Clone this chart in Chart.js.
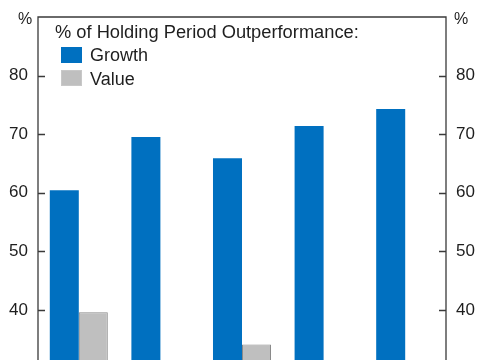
<!DOCTYPE html>
<html>
<head>
<meta charset="utf-8">
<script src="https://cdn.jsdelivr.net/npm/chart.js@4/dist/chart.umd.min.js"></script>
<style>
  html, body { margin: 0; padding: 0; background: #fff; overflow: hidden; }
  #wrap { position: relative; width: 485px; height: 440px; }
  canvas { display: block; }
  .txt { position: absolute; font-family: "Liberation Sans", Arial, sans-serif; font-size: 18px; color: #1e1e1e; white-space: nowrap; line-height: 1; }
  .box { position: absolute; width: 21px; height: 16px; box-sizing: border-box; }
</style>
</head>
<body>
<div id="wrap">
  <canvas id="c" width="485" height="440"></canvas>
  <div id="overlay"></div>
</div>
<script>
// ---- data ----
const categories = ["Period 1", "Period 2", "Period 3", "Period 4", "Period 5"];
const growthValues = [60.4, 69.5, 65.9, 71.4, 74.3];
const valueValues = [39.6, 30.5, 34.1, 28.6, 25.7];
const yTicks = [40, 50, 60, 70, 80];
const legendTitle = "% of Holding Period Outperformance:";
const seriesNames = ["Growth", "Value"];
const unitLabel = "%";

const growthColor = "#0070C0";
const valueColor = "#BFBFBF";

const frame = {
  id: 'frame',
  afterDraw(chart) {
    const ctx = chart.ctx, a = chart.chartArea;
    const y = chart.scales.y;
    ctx.save();
    ctx.strokeStyle = "#3a3a3a";
    ctx.lineWidth = 1.3;
    ctx.beginPath();
    ctx.moveTo(a.left, a.bottom + 20); ctx.lineTo(a.left, a.top);
    ctx.lineTo(a.right, a.top); ctx.lineTo(a.right, a.bottom + 20);
    yTicks.forEach(v => {
      const py = Math.round(y.getPixelForValue(v)) + 0.5;
      ctx.moveTo(a.left, py); ctx.lineTo(a.left + 7, py);
      ctx.moveTo(a.right, py); ctx.lineTo(a.right - 7, py);
    });
    ctx.stroke();
    ctx.restore();
  }
};

const tickFont = { family: "Liberation Sans, Arial, sans-serif", size: 17 };
function onlyListed(s) { s.ticks = yTicks.map(v => ({ value: v })); }
const hiddenGrid = { display: true, drawOnChartArea: false, drawTicks: true, tickLength: 10, color: 'rgba(0,0,0,0)' };

new Chart(document.getElementById('c'), {
  type: 'bar',
  data: {
    labels: categories,
    datasets: [
      { label: seriesNames[0], data: growthValues, backgroundColor: growthColor, borderWidth: 0 },
      { label: seriesNames[1], data: valueValues, backgroundColor: valueColor, borderColor: "#8a8a8a", borderWidth: 1 }
    ]
  },
  options: {
    responsive: false,
    animation: false,
    datasets: { bar: { barPercentage: 1.0, categoryPercentage: 0.711 } },
    layout: { padding: { top: 17, bottom: 13, left: 0, right: 0 } },
    plugins: { legend: { display: false }, tooltip: { enabled: false } },
    scales: {
      x: { display: false, grid: { display: false } },
      y: {
        position: 'left', min: 20, max: 90,
        afterBuildTicks: onlyListed,
        ticks: { color: "#1e1e1e", font: tickFont, padding: 0 },
        grid: hiddenGrid,
        border: { display: false },
        afterFit(s) { s.width = 38; }
      },
      y2: {
        position: 'right', min: 20, max: 90,
        afterBuildTicks: onlyListed,
        ticks: { color: "#1e1e1e", font: tickFont, padding: 0 },
        grid: hiddenGrid,
        border: { display: false },
        afterFit(s) { s.width = 39; }
      }
    }
  },
  plugins: [frame]
});

// ---- overlay text (legend and unit labels) ----
const ov = document.getElementById('overlay');
function addText(t, x, y, size) {
  const d = document.createElement('div'); d.className = 'txt';
  d.textContent = t; d.style.left = x + 'px'; d.style.top = y + 'px';
  if (size) d.style.fontSize = size + 'px';
  ov.appendChild(d);
}
function addBox(color, border, x, y) {
  const d = document.createElement('div'); d.className = 'box';
  d.style.background = color; d.style.left = x + 'px'; d.style.top = y + 'px';
  if (border) d.style.border = '1px solid ' + border;
  ov.appendChild(d);
}
addText(unitLabel, 18, 11, 16);
addText(unitLabel, 454, 11, 16);
addText(legendTitle, 55, 22.5, 18.3);
addBox(growthColor, null, 61, 47);
addText(seriesNames[0], 90, 46);
addBox(valueColor, "#c8c8c8", 61, 70);
addText(seriesNames[1], 90, 69.5);
</script>
</body>
</html>
